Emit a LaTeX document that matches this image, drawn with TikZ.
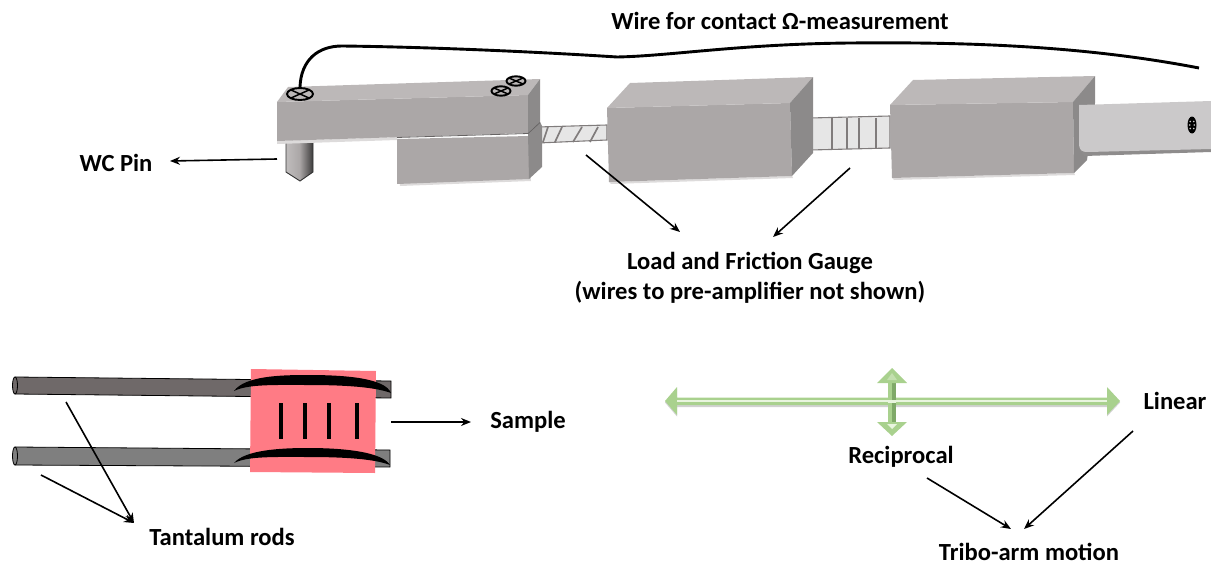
\documentclass[tikz,border=0pt]{standalone}
\usepackage{fontspec}
\setmainfont{Carlito}
\usetikzlibrary{arrows.meta}
\definecolor{btop}{HTML}{BCB8B8}
\definecolor{bfront}{HTML}{ABA7A7}
\definecolor{bside}{HTML}{8C8A8A}
\definecolor{bshadow}{HTML}{DDDBDB}
\definecolor{armc}{HTML}{CBC9CA}
\definecolor{armd}{HTML}{8E8C8C}
\definecolor{gaugef}{HTML}{E6E6E6}
\definecolor{gaugel}{HTML}{807C7C}
\definecolor{rodtop}{HTML}{6F6969}
\definecolor{rodbot}{HTML}{7F7F7F}
\definecolor{samplec}{HTML}{FF7B85}
\definecolor{greenm}{HTML}{A9D18E}
\definecolor{greenl}{HTML}{E9F5DF}
\definecolor{greend}{HTML}{7FA968}
\tikzset{
  lbl/.style={font=\fontsize{24.6}{28}\selectfont\bfseries, inner sep=0pt, align=center},
  ptr/.style={-{Stealth[length=10pt,width=8pt]}, line width=1.6pt, black},
  screwring/.style={draw=black, line width=1.9pt, fill=btop},
  screwbar/.style={draw=black, line width=1.5pt},
  gaugerod/.style={fill=gaugef, draw=gaugel, line width=1.1pt},
  gaugestripe/.style={draw=gaugel, line width=1.7pt},
  rodline/.style={draw=black, line width=.8pt},
  clip band/.style={fill=black, draw=none},
  mark bar/.style={line width=3.8pt, black},
}
\begin{document}
\begin{tikzpicture}[x=1pt,y=-1pt]
\useasboundingbox (0,0) rectangle (1211,565);

% gauges between the blocks
\path[gaugerod] (538,127) -- (607,125) -- (607,140) -- (538,143) -- cycle;
\foreach \a/\b in {543/548,555/562,573/582,590/598}
  \draw[gaugestripe] (\a,142) -- (\b,127);
\path[gaugerod] (810,118) -- (890,116) -- (890,148) -- (810,150) -- cycle;
\foreach \a in {832,847,859,876}
  \draw[gaugestripe] (\a,118) -- (\a,149);

% lower jaw
\fill[bshadow] (397,142) -- (400,186) -- (531,181) -- (529,140) -- cycle;
\fill[bfront] (397,139) -- (529,136) -- (529,179) -- (397,184) -- cycle;
\fill[bside] (528,133) -- (540,122) -- (542,126) -- (542,167) -- (529,179) -- cycle;

% pin
\shade[left color=bfront!75!white, right color=bfront!35!black, middle color=bfront]
  (286,141) -- (313,140) -- (313,172) -- (300,181) -- (286,172) -- cycle;
\draw[black!80, line width=.9pt] (286,141) -- (286,172) -- (300,181) -- (313,172) -- (313,140);

% upper head
\fill[bshadow] (277,141) -- (277,144) -- (397,140) -- (397,137) -- cycle;
\fill[bfront] (277,102) -- (528,95) -- (528,133) -- (277,141) -- cycle;
\fill[btop] (277,102) -- (288,87) -- (540,79) -- (528,95) -- cycle;
\fill[bside] (528,95) -- (540,79) -- (540,122) -- (528,133) -- cycle;
\draw[bfront!60!black, line width=.8pt] (397,137.5) -- (528,133.5) -- (540,122.5);

% middle block
\fill[bshadow] (609,182) -- (611,184) -- (793,178) -- (792,176) -- cycle;
\fill[bfront] (607,108) -- (790,103) -- (792,176) -- (609,182) -- cycle;
\fill[btop] (607,108) -- (630,83) -- (813,77) -- (790,103) -- cycle;
\fill[bside] (790,103) -- (813,77) -- (813,153) -- (792,176) -- cycle;

% right block
\fill[bshadow] (892,178) -- (894,180) -- (1075,175) -- (1074,173) -- cycle;
\fill[bfront] (890,105) -- (1073,102) -- (1074,173) -- (892,178) -- cycle;
\fill[btop] (890,105) -- (913,80) -- (1095,76) -- (1073,102) -- cycle;
\fill[bside] (1073,102) -- (1095,76) -- (1095,103) -- (1087,160) -- (1074,173) -- cycle;

% arm
\fill[armd] (1080,150) -- (1211,146) -- (1211,152) -- (1084,156) -- cycle;
\fill[armc] (1079,105) -- (1211,101) -- (1211,149) -- (1088,152) .. controls (1081,152) and (1080,150) .. (1079,145) -- cycle;
\fill[black] (1192,125) ellipse [x radius=4.5, y radius=8.5];
\foreach \dx/\dy in {-1.7/-3.5,1.7/-3.5,-1.7/3.5,1.7/3.5,-2.2/0,2.2/0}
  \fill[armc] (1192+\dx,125+\dy) circle [radius=.9];

% contact wire
\coordinate (wireA) at (300,93);
\coordinate (wireB) at (1199,68);
\draw[black, line width=2.9pt] (wireA) -- (300,87) .. controls (301,60) and (318,46) .. (342,46)
  .. controls (430,47) and (540,52) .. (617,57)
  .. controls (670,56) and (740,44) .. (850,43)
  .. controls (960,42) and (1080,45) .. (wireB);

% screws
\path[screwring] (300,94) ellipse [x radius=13, y radius=6];
\draw[screwbar] (291,90) -- (309,98) (291,98) -- (309,90);
\path[screwring] (501,91) ellipse [x radius=9.5, y radius=4.7];
\draw[screwbar] (494,88) -- (508,94) (494,94) -- (508,88);
\path[screwring] (516,81) ellipse [x radius=9.5, y radius=4.7];
\draw[screwbar] (509,78) -- (523,84) (509,84) -- (523,78);

% rods
\path[fill=rodtop, rodline] (15,377) -- (391,381) -- (391,398) -- (15,394) -- cycle;
\path[fill=rodtop, rodline] (15,385.5) ellipse [x radius=2.5, y radius=8.5];
\path[fill=rodbot, rodline] (15,447) -- (390,450) -- (390,467) -- (15,465) -- cycle;
\path[fill=rodbot, rodline] (15,456) ellipse [x radius=2.5, y radius=9];

% sample
\fill[samplec] (251,369) -- (376,371) -- (375,473) -- (250,472) -- cycle;
\path[clip band] (234,391) .. controls (245,376) and (280,375) .. (308,375)
  .. controls (345,375) and (385,378) .. (391,393)
  .. controls (375,387) and (345,385) .. (308,385)
  .. controls (275,385) and (248,384) .. (234,391) -- cycle;
\path[clip band] (234,463) .. controls (245,450) and (280,448) .. (308,448)
  .. controls (345,448) and (382,452) .. (390,465)
  .. controls (375,459) and (345,457) .. (308,457)
  .. controls (275,457) and (248,456) .. (234,463) -- cycle;
\foreach \x in {281,305,329,357}
  \draw[mark bar] (\x,403) -- (\x,439);

% motion arrows (green)
\fill[black!18] (665,402.5) -- (677,388.5) -- (677,399) -- (1107,399) -- (1107,388.5) -- (1120,402.5) -- (1107,416.5) -- (1107,407) -- (677,407) -- (677,416.5) -- cycle;
\fill[greenm] (665,401) -- (677,387) -- (677,397.5) -- (1107,397.5) -- (1107,387) -- (1120,401) -- (1107,415) -- (1107,405) -- (677,405) -- (677,415) -- cycle;
\draw[greenl, line width=2.4pt] (677,401) -- (888,401) (896,401) -- (1107,401);
\fill[greend] (888,382) -- (896,382) -- (896,423) -- (888,423) -- cycle;
\fill[greenm] (887.5,382) -- (891.5,382) -- (891.5,423) -- (887.5,423) -- cycle;
\fill[greenm] (892,368) -- (907,383) -- (877,383) -- cycle;
\fill[greenm] (892,436) -- (877,422) -- (907,422) -- cycle;
\fill[greenl!40!greenm] (892,373) -- (897,380) -- (887,380) -- cycle;
\fill[greenl] (892,429) -- (887,424) -- (897,424) -- cycle;
\fill[greenl] (888,399.5) -- (896,399.5) -- (896,402.5) -- (888,402.5) -- cycle;

% labels
\node[lbl] (wirelabel) at (780,21) {Wire for contact Ω-measurement};
\node[lbl] (pinlabel) at (116,163) {WC Pin};
\node[lbl] (gaugelabel) at (750,278) {Load and Friction Gauge\\[2pt](wires to pre-amplifier not shown)};
\node[lbl] (samplelabel) at (528,422) {Sample};
\node[lbl] (rodslabel) at (222,537) {Tantalum rods};
\node[lbl] (linearlabel) at (1175,401) {Linear};
\node[lbl] (reciplabel) at (901,457) {Reciprocal};
\node[lbl] (tribolabel) at (1029,552) {Tribo-arm motion};

% pointers
\coordinate (pinfrom) at (277,159);
\coordinate (pinto) at (170,161);
\coordinate (gaugeA) at (586,155);
\coordinate (gaugeB) at (850,168);
\coordinate (gaugetoA) at (680,232);
\coordinate (gaugetoB) at (773,237);
\coordinate (samplefrom) at (391,422);
\coordinate (sampleto) at (471,422);
\coordinate (rodA) at (66,402);
\coordinate (rodB) at (41,475);
\coordinate (rodto) at (134,523);
\coordinate (recipfrom) at (927,478);
\coordinate (linfrom) at (1133,431);
\coordinate (triboL) at (1011,529);
\coordinate (triboR) at (1024,529);
\draw[ptr] (pinfrom) -- (pinto);
\draw[ptr] (gaugeA) -- (gaugetoA);
\draw[ptr] (gaugeB) -- (gaugetoB);
\draw[ptr] (samplefrom) -- (sampleto);
\draw[ptr] (rodA) -- (rodto);
\draw[ptr] (rodB) -- (rodto);
\draw[ptr] (recipfrom) -- (triboL);
\draw[ptr] (linfrom) -- (triboR);
\end{tikzpicture}
\end{document}
